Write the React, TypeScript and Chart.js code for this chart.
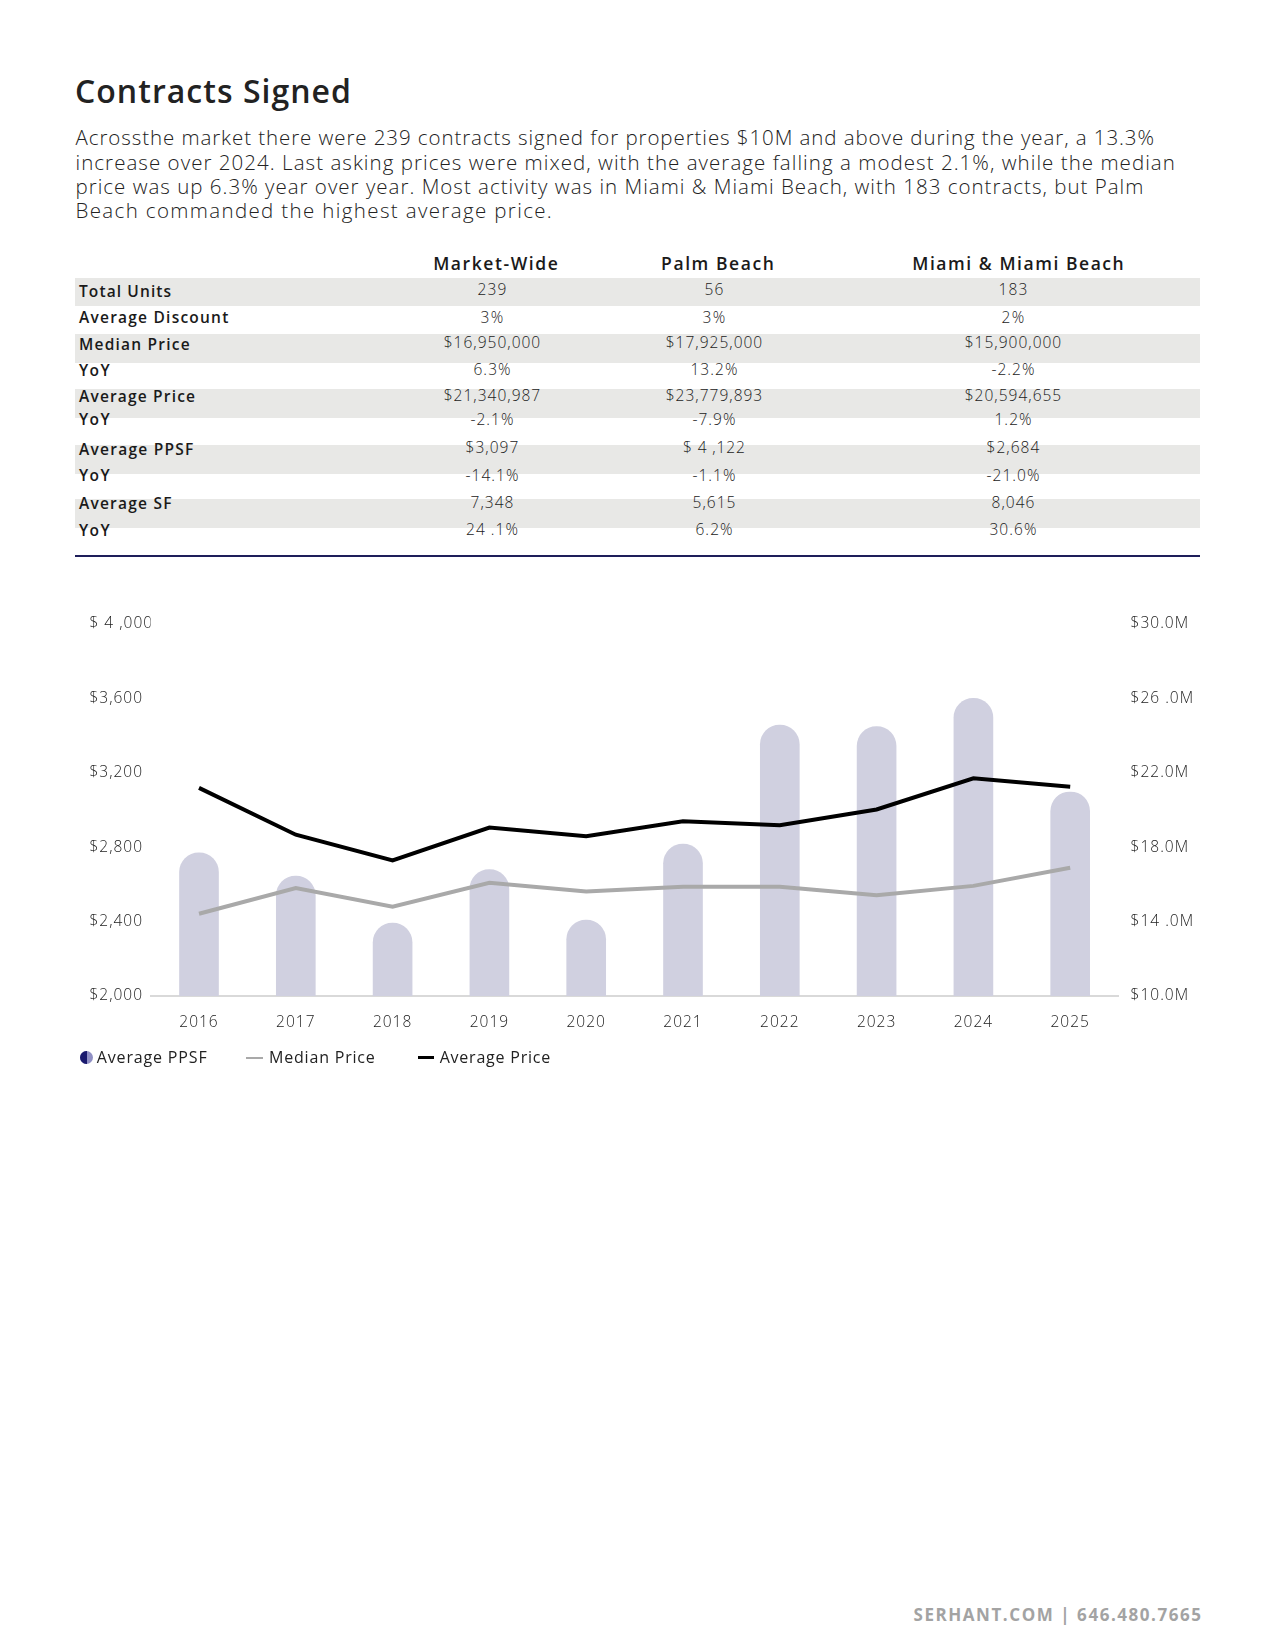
import React, { useEffect, useRef } from 'react';
import { Chart, registerables } from 'chart.js';

Chart.register(...registerables);

// ---------- DATA ----------
const years = ['2016', '2017', '2018', '2019', '2020', '2021', '2022', '2023', '2024', '2025'];
const averagePpsf = [2770, 2645, 2392, 2680, 2408, 2817, 3457, 3448, 3600, 3097];
const medianPriceM = [14.42, 15.8, 14.8, 16.09, 15.62, 15.87, 15.87, 15.42, 15.92, 16.9];
const averagePriceM = [21.19, 18.67, 17.29, 19.06, 18.59, 19.4, 19.18, 20.03, 21.7, 21.25];

const leftTickLabels = ['$2,000', '$2,400', '$2,800', '$3,200', '$3,600', '$ 4 ,000'];
const rightTickLabels = ['$10.0M', '$14 .0M', '$18.0M', '$22.0M', '$26 .0M', '$30.0M'];

const seriesNames = ['Average PPSF', 'Median Price', 'Average Price'];

const tableHeaders = ['Market-Wide', 'Palm Beach', 'Miami & Miami Beach'];
const rowLabels = ['Total Units', 'Average Discount', 'Median Price', 'YoY', 'Average Price', 'YoY', 'Average PPSF', 'YoY', 'Average SF', 'YoY'];
const marketWide = ['239', '3%', '$16,950,000', '6.3%', '$21,340,987', '-2.1%', '$3,097', '-14.1%', '7,348', '24 .1%'];
const palmBeach = ['56', '3%', '$17,925,000', '13.2%', '$23,779,893', '-7.9%', '$ 4 ,122', '-1.1%', '5,615', '6.2%'];
const miamiBeach = ['183', '2%', '$15,900,000', '-2.2%', '$20,594,655', '1.2%', '$2,684', '-21.0%', '8,046', '30.6%'];

const titleText = 'Contracts Signed';
const paragraphLines = [
  'Acrossthe market there were 239 contracts signed for properties $10M and above during the year, a 13.3%',
  'increase over 2024. Last asking prices were mixed, with the average falling a modest 2.1%, while the median',
  'price was up 6.3% year over year. Most activity was in Miami & Miami Beach, with 183 contracts, but Palm',
  'Beach commanded the highest average price.',
];
const footerText = 'SERHANT.COM | 646.480.7665';

// ---------- LAYOUT ----------
const FONT = '"Open Sans", "DejaVu Sans", sans-serif';
const paragraphWidths = [1079.4, 1100.4, 1068.8, 477.6];
const labelY = [291.6, 317.8, 344.4, 370.5, 396.8, 420.2, 449.4, 475.7, 504.2, 530.4];
const valueY = [289.6, 317.4, 343.2, 370.3, 396.2, 420.0, 448.0, 475.5, 503.2, 530.0];
const bandTops = [277.7, 334, 389, 445, 499.3];
const BAND_H = 28.5;
const colCenters = [492, 714, 1013];
const headerCenters = [495.5, 717.5, 1018];

const CANVAS_TOP = 560;
const CANVAS_H = 520;

let measureCtx: CanvasRenderingContext2D | null = null;
function measure(text: string, size: number, weight: number): number {
  if (!measureCtx) measureCtx = document.createElement('canvas').getContext('2d');
  if (!measureCtx) return text.length * size * 0.5;
  measureCtx.font = `${weight} ${size}px ${FONT}`;
  return measureCtx.measureText(text).width;
}

const tickSpacingPlugin = {
  id: 'tickSpacing',
  beforeDraw(chart: any) {
    try { chart.ctx.letterSpacing = '1px'; } catch (e) { /* ignore */ }
  },
  afterDraw(chart: any) {
    try { chart.ctx.letterSpacing = '0px'; } catch (e) { /* ignore */ }
  },
};

function ChartBlock() {
  const ref = useRef<HTMLCanvasElement | null>(null);
  useEffect(() => {
    const canvas = ref.current;
    if (!canvas) return;
    const tickFont = { family: FONT, size: 15.5, weight: 300 as any };
    const chart = new Chart(canvas, {
      type: 'bar',
      data: {
        labels: years,
        datasets: [
          {
            type: 'line',
            label: seriesNames[2],
            data: averagePriceM,
            yAxisID: 'y1',
            borderColor: '#000000',
            backgroundColor: '#000000',
            borderWidth: 4,
            pointRadius: 0,
            tension: 0,
            order: 0,
          },
          {
            type: 'line',
            label: seriesNames[1],
            data: medianPriceM,
            yAxisID: 'y1',
            borderColor: '#a9a9a9',
            backgroundColor: '#a9a9a9',
            borderWidth: 4,
            pointRadius: 0,
            tension: 0,
            order: 1,
          },
          {
            type: 'bar',
            label: seriesNames[0],
            data: averagePpsf,
            yAxisID: 'y',
            backgroundColor: '#d0d0e0',
            barThickness: 39,
            borderRadius: 20,
            borderSkipped: 'start',
            order: 2,
          },
        ],
      } as any,
      options: {
        responsive: false,
        maintainAspectRatio: false,
        animation: false,
        layout: { padding: { left: 89.5, right: 76.4, top: 64, bottom: 44 } },
        plugins: { legend: { display: false }, tooltip: { enabled: false } },
        scales: {
          x: {
            offset: true,
            grid: { display: false, drawTicks: false },
            border: { display: true, color: '#d9d9d9', width: 2 },
            ticks: { color: '#222', font: tickFont, padding: 17, maxRotation: 0 },
            afterFit: (s: any) => { s.width = s.width; s.height = 40; },
          },
          y: {
            position: 'left',
            min: 2000,
            max: 4000,
            grid: { display: false, drawTicks: false },
            border: { display: false },
            ticks: {
              stepSize: 400,
              crossAlign: 'far',
              padding: 6,
              color: '#222',
              font: tickFont,
              callback: (_v: any, i: number) => leftTickLabels[i],
            },
            afterFit: (s: any) => { s.width = 61.1; },
          },
          y1: {
            position: 'right',
            min: 10,
            max: 30,
            grid: { display: false, drawTicks: false },
            border: { display: false },
            ticks: {
              stepSize: 4,
              padding: 12,
              color: '#222',
              font: tickFont,
              callback: (_v: any, i: number) => rightTickLabels[i],
            },
            afterFit: (s: any) => { s.width = 80; },
          },
        },
      } as any,
      plugins: [tickSpacingPlugin],
    });
    return () => chart.destroy();
  }, []);
  return (
    <canvas
      ref={ref}
      width={1275}
      height={CANVAS_H}
      style={{ position: 'absolute', left: 0, top: CANVAS_TOP, width: 1275, height: CANVAS_H }}
    />
  );
}

type TextProps = {
  x: number; y: number; text: string; size: number; weight?: number;
  align?: 'left' | 'center' | 'right'; color?: string; widen?: number; width?: number;
};

function TextAt(props: TextProps) {
  const { x, y, text, size, weight = 400, align = 'left', color = '#1a1a1a', widen = 1, width } = props;
  const lh = size * 1.4;
  const natural = measure(text, size, weight);
  const target = width !== undefined ? width : natural * widen;
  const ls = text.length > 1 ? (target - natural) / text.length : 0;
  const style: React.CSSProperties = {
    position: 'absolute',
    top: y - lh / 2,
    height: lh,
    lineHeight: `${lh}px`,
    fontSize: size,
    fontWeight: weight,
    fontFamily: FONT,
    color,
    whiteSpace: 'pre',
    letterSpacing: ls,
  };
  if (align === 'left') style.left = x;
  else if (align === 'right') style.right = 1275 - x - ls;
  else { style.left = x - 300 + ls / 2; style.width = 600; style.textAlign = 'center'; }
  return <div style={style}>{text}</div>;
}

export default function App() {
  return (
    <div style={{ position: 'absolute', left: 0, top: 0, width: 1275, height: 1650, background: '#fff', overflow: 'hidden' }}>
      <TextAt x={75} y={91.5} text={titleText} size={32} weight={600} color="#222" width={277} />
      {paragraphLines.map((l, i) => (
        <TextAt key={i} x={75.5} y={137.8 + i * 24.2} text={l} size={20.5} weight={300} color="#222" width={paragraphWidths[i]} />
      ))}

      {headerCenters.map((c, i) => (
        <TextAt key={'h' + i} x={c} y={263.3} text={tableHeaders[i]} size={17.5} weight={600} align="center" color="#1a1a1a" widen={1.16} />
      ))}
      {bandTops.map((t, i) => (
        <div key={'b' + i} style={{ position: 'absolute', left: 74.7, top: t, width: 1125.5, height: BAND_H, background: '#e8e8e6' }} />
      ))}
      {rowLabels.map((l, i) => (
        <TextAt key={'l' + i} x={79} y={labelY[i]} text={l} size={15.5} weight={600} color="#1a1a1a" widen={1.15} />
      ))}
      {[marketWide, palmBeach, miamiBeach].map((col, ci) =>
        col.map((v, ri) => (
          <TextAt key={'v' + ci + '-' + ri} x={colCenters[ci]} y={valueY[ri]} text={v} size={15.5} weight={300} align="center" color="#222" widen={1.13} />
        ))
      )}
      <div style={{ position: 'absolute', left: 74.7, top: 554.5, width: 1125.5, height: 2, background: '#1e1e5a' }} />

      <ChartBlock />

      {/* legend */}
      <div style={{ position: 'absolute', left: 80, top: 1051, width: 13, height: 13, borderRadius: '50%', overflow: 'hidden', background: '#8f8fc4' }}>
        <div style={{ width: 6.5, height: 13, background: '#1a1a6e' }} />
      </div>
      <TextAt x={96.8} y={1057.5} text={seriesNames[0]} size={16} weight={400} color="#222" widen={1.1} />
      <div style={{ position: 'absolute', left: 246, top: 1056.5, width: 17, height: 2, background: '#a9a9a9' }} />
      <TextAt x={269} y={1057.5} text={seriesNames[1]} size={16} weight={400} color="#222" widen={1.1} />
      <div style={{ position: 'absolute', left: 417.6, top: 1056, width: 16, height: 3, background: '#000' }} />
      <TextAt x={439.7} y={1057.5} text={seriesNames[2]} size={16} weight={400} color="#222" widen={1.1} />

      <TextAt x={1201} y={1615} text={footerText} size={17} weight={700} align="right" color="#a3a3a3" width={289} />
    </div>
  );
}
